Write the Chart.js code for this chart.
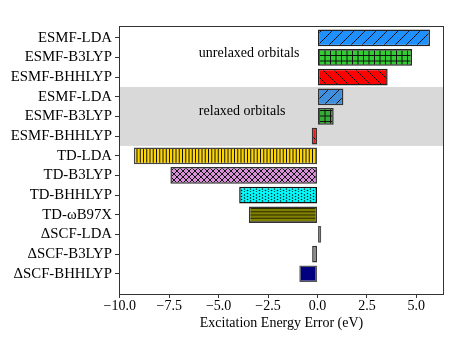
<!DOCTYPE html>
<html>
<head>
<meta charset="utf-8">
<script src="https://cdn.jsdelivr.net/npm/chart.js@4"></script>
<style>
  html, body { margin: 0; padding: 0; background: #fff; }
  #wrap { width: 463px; height: 347px; }
</style>
</head>
<body>
<div id="wrap"><canvas id="chart" width="463" height="347"></canvas></div>
<script>
(() => {
    'use strict';

    // Data
    const categories = [
        'ESMF-LDA', 'ESMF-B3LYP', 'ESMF-BHHLYP',
        'ESMF-LDA', 'ESMF-B3LYP', 'ESMF-BHHLYP',
        'TD-LDA', 'TD-B3LYP', 'TD-BHHLYP', 'TD-\u03c9B97X',
        '\u0394SCF-LDA', '\u0394SCF-B3LYP', '\u0394SCF-BHHLYP'
    ];
    const errors = [5.69, 4.78, 3.55, 1.31, 0.82, -0.29, -9.29, -7.44, -3.96, -3.47, 0.19, -0.27, -0.92];
    const xTicks = [-10, -7.5, -5, -2.5, 0, 2.5, 5];
    const fills = ['#1e90ff', '#32cd32', '#ff0000', '#3f8fdc', '#35ad35', '#e02020',
        '#ffd700', '#d890d8', '#00ffff', '#808000', '#f47a50', '#8a8a8a', '#000080'];
    const hatches = ['/', '+', '\\', '/', '+', '\\', '|', 'x', '.', '-', '', '', ''];
    const edges = ['#222', '#222', '#222', '#333', '#333', '#333',
        '#444', '#333', '#111', '#333', '#555', '#333', '#555'];
    const relaxedBand = [2.5, 5.5];
    const notes = [
        { text: 'unrelaxed orbitals', x: -6, y: 0.8 },
        { text: 'relaxed orbitals', x: -6, y: 3.75 }
    ];

    const FONT = "'Liberation Serif', 'Times New Roman', serif";
    Chart.defaults.font.family = FONT;
    Chart.defaults.font.size = 14;
    Chart.defaults.color = '#000';

    // hatch tiles for the bars
    function makePattern(fill, kind) {
        if (!kind) return fill;
        const sizes = { '/': 11, '\\': 11, '+': 5.5, '|': 3.3, 'x': 6, '.': 3, '-': 3.3 };
        const s = sizes[kind];
        const n = Math.round(s * 4);
        const c = document.createElement('canvas');
        c.width = n; c.height = n;
        const g = c.getContext('2d');
        g.fillStyle = fill;
        g.fillRect(0, 0, n, n);
        g.strokeStyle = kind === '-' ? '#2a2a00' : '#111';
        g.fillStyle = '#111';
        g.lineWidth = 1;
        const step = n / 4;
        g.beginPath();
        for (let k = -4; k <= 8; k++) {
            const o = k * step;
            if (kind === '/' || kind === 'x') {
                g.moveTo(o, n); g.lineTo(o + n, 0);
            }
            if (kind === '\\' || kind === 'x') {
                g.moveTo(o, 0); g.lineTo(o + n, n);
            }
            if ((kind === '|' || kind === '+') && o >= 0 && o < n) {
                g.moveTo(o + 0.5, 0); g.lineTo(o + 0.5, n);
            }
            if ((kind === '-' || kind === '+') && o >= 0 && o < n) {
                g.moveTo(0, o + 0.5); g.lineTo(n, o + 0.5);
            }
        }
        g.stroke();
        if (kind === '.') {
            for (let i = 0; i < 4; i++) {
                for (let j = 0; j < 4; j++) {
                    g.beginPath();
                    g.arc(i * step + step / 2, j * step + step / 2 + (i % 2) * step / 2, 0.8, 0, Math.PI * 2);
                    g.fill();
                }
            }
        }
        return g.createPattern(c, 'repeat');
    }

    // grey band, notes and the full frame
    const decorations = {
        id: 'decorations',
        beforeDatasetsDraw(chart) {
            const { ctx, chartArea, scales } = chart;
            const y0 = scales.y.getPixelForValue(relaxedBand[0]);
            const y1 = scales.y.getPixelForValue(relaxedBand[1]);
            ctx.save();
            ctx.fillStyle = '#d9d9d9';
            ctx.fillRect(chartArea.left, y0, chartArea.right - chartArea.left, y1 - y0);
            ctx.font = '14px ' + FONT;
            ctx.fillStyle = '#000';
            ctx.textBaseline = 'middle';
            ctx.textAlign = 'left';
            notes.forEach(n => {
                ctx.fillText(n.text, scales.x.getPixelForValue(n.x), scales.y.getPixelForValue(n.y));
            });
            ctx.restore();
        },
        afterDraw(chart) {
            const { ctx, chartArea } = chart;
            ctx.save();
            ctx.strokeStyle = '#333';
            ctx.lineWidth = 1;
            ctx.strokeRect(chartArea.left + 0.5, chartArea.top + 0.5,
                chartArea.right - chartArea.left - 1, chartArea.bottom - chartArea.top);
            ctx.restore();
        }
    };

    const ctx = document.getElementById('chart');
    new Chart(ctx, {
        type: 'bar',
        data: {
            datasets: [{
                data: errors.map((v, i) => ({ x: v, y: i })),
                backgroundColor: fills.map((f, i) => makePattern(f, hatches[i])),
                borderColor: edges,
                borderWidth: 1.5,
                borderSkipped: false,
                barPercentage: 0.85,
                categoryPercentage: 1
            }]
        },
        options: {
            indexAxis: 'y',
            responsive: false,
            animation: false,
            devicePixelRatio: 1,
            layout: { padding: { left: 0, right: 19, top: 26, bottom: 0 } },
            plugins: { legend: { display: false }, tooltip: { enabled: false } },
            scales: {
                y: {
                    type: 'linear',
                    reverse: true,
                    offset: false,
                    min: -0.6,
                    max: 13.03,
                    afterBuildTicks: s => { s.ticks = categories.map((c, i) => ({ value: i })); },
                    afterFit: s => { s.width = 119; },
                    ticks: {
                        callback: v => categories[v],
                        font: { size: 14.8 },
                        padding: 3,
                        autoSkip: false
                    },
                    grid: { drawOnChartArea: false, offset: false, tickLength: 4, color: '#333' },
                    border: { display: false }
                },
                x: {
                    type: 'linear',
                    min: -10.04,
                    max: 6.4,
                    afterBuildTicks: s => { s.ticks = xTicks.map(v => ({ value: v })); },
                    afterFit: s => { s.height = 53; },
                    ticks: {
                        callback: v => (v < 0 ? '\u2212' : '') + Math.abs(v).toFixed(1),
                        padding: 0,
                        maxRotation: 0,
                        autoSkip: false
                    },
                    grid: { drawOnChartArea: false, tickLength: 4, color: '#333' },
                    border: { display: false },
                    title: {
                        display: true,
                        text: 'Excitation Energy Error (eV)',
                        font: { size: 14 },
                        padding: { top: 0, bottom: 15 }
                    }
                }
            }
        },
        plugins: [decorations]
    });
})();
</script>
</body>
</html>
